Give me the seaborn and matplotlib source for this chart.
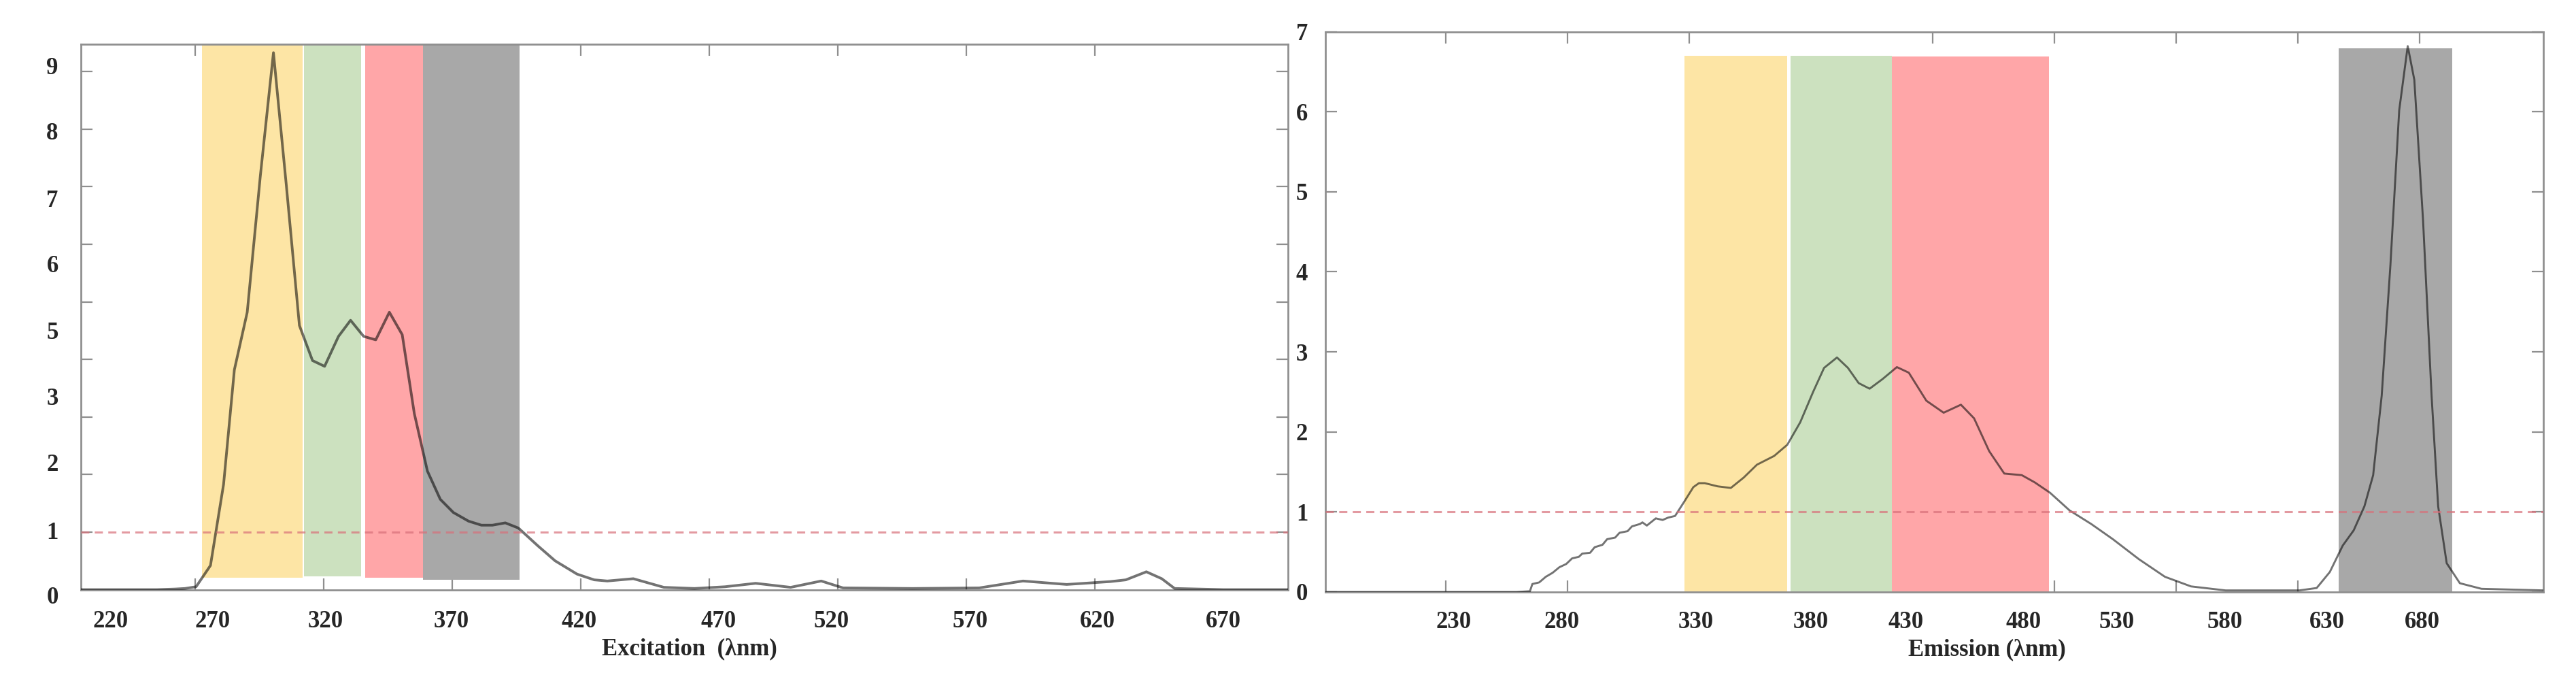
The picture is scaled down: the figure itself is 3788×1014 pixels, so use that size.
import numpy as np
import pandas as pd
import matplotlib
matplotlib.use("Agg")
import matplotlib.pyplot as plt
import matplotlib.transforms as mtransforms
import seaborn as sns

# ---------------- data ----------------
# Excitation spectrum (left panel)
exc_wavelength = [225.5, 240, 255, 262, 266, 270.3, 275.9, 281.0, 285.2, 290.2, 295.3, 300.4,
                  305.4, 310.5, 315.6, 320.3, 325.7, 330.4, 335.5, 340.2, 345.5, 350.5, 355.2,
                  360.3, 365.3, 370.4, 376.3, 381.3, 385.6, 390.6, 395.7, 403.3, 410.0, 418.5,
                  425.2, 430.3, 440.4, 452.3, 464.2, 476.1, 488.0, 501.6, 513.5, 522.0, 549.0,
                  575.0, 592.0, 609.0, 626.0, 632.0, 640.0, 646.0, 651.0, 670.0, 695.0]
exc_intensity = [0.0, 0.0, 0.0, 0.01, 0.02, 0.05, 0.42, 1.83, 3.82, 4.82, 7.19, 9.33,
                 7.03, 4.59, 3.98, 3.88, 4.40, 4.68, 4.40, 4.34, 4.82, 4.43, 3.06,
                 2.06, 1.57, 1.34, 1.19, 1.12, 1.12, 1.16, 1.07, 0.76, 0.50, 0.27,
                 0.17, 0.15, 0.19, 0.04, 0.02, 0.05, 0.11, 0.04, 0.15, 0.03, 0.02,
                 0.03, 0.15, 0.09, 0.14, 0.17, 0.31, 0.19, 0.02, 0.0, 0.0]

# Emission spectrum (right panel)
em_wavelength = [180.6, 259.1, 264.6, 265.6, 268.4, 271.1, 273.9, 276.7, 279.5, 281.9, 284.7,
                 286.1, 289.3, 291.2, 294.4, 296.3, 299.6, 301.4, 304.7, 306.5, 309.8, 310.8,
                 312.6, 316.3, 319.1, 321.4, 324.2, 328.0, 331.7, 334.0, 336.4, 341.7, 347.1,
                 352.4, 357.8, 364.9, 370.3, 375.6, 380.9, 385.4, 390.7, 395.2, 399.6, 404.1,
                 409.4, 415.3, 420.2, 427.4, 434.5, 441.6, 447.0, 453.2, 459.4, 466.6, 471.9,
                 478.2, 486.2, 495.1, 504.0, 514.7, 525.4, 536.1, 550.3, 580.6, 587.7, 593.1,
                 598.4, 602.9, 607.3, 610.9, 614.4, 618.0, 621.6, 625.1, 627.8, 631.4, 634.9,
                 637.6, 641.1, 646.5, 655.4, 680.8]
em_intensity = [0.0, 0.0, 0.01, 0.10, 0.12, 0.19, 0.24, 0.31, 0.35, 0.42, 0.44,
                0.48, 0.49, 0.56, 0.59, 0.66, 0.68, 0.74, 0.76, 0.82, 0.85, 0.87,
                0.83, 0.92, 0.90, 0.93, 0.95, 1.13, 1.31, 1.36, 1.36, 1.32, 1.30,
                1.43, 1.59, 1.70, 1.84, 2.12, 2.50, 2.80, 2.93, 2.80, 2.61, 2.54,
                2.66, 2.81, 2.74, 2.39, 2.24, 2.34, 2.17, 1.76, 1.48, 1.46, 1.37,
                1.24, 1.02, 0.85, 0.66, 0.41, 0.19, 0.07, 0.02, 0.02, 0.05, 0.25,
                0.58, 0.77, 1.07, 1.46, 2.45, 4.09, 6.02, 6.82, 6.40, 4.64, 2.45,
                1.07, 0.36, 0.11, 0.04, 0.02]

# Highlight bands: start, end, bottom, top (nm / intensity)
band_colors = ["#FDE5A5", "#CCE1BF", "#FFA6A8", "#A8A8A8"]
exc_band_start = [272.6, 312.3, 336.0, 358.5]
exc_band_end = [311.8, 334.4, 358.5, 396.2]
exc_band_bottom = [0.21, 0.23, 0.21, 0.17]
exc_band_top = [9.48, 9.48, 9.48, 9.48]
em_band_start = [328.0, 371.6, 413.2, 596.8]
em_band_end = [370.2, 413.2, 477.8, 643.4]
em_band_bottom = [0.0, 0.0, 0.0, 0.0]
em_band_top = [6.70, 6.70, 6.69, 6.79]

threshold = 1.0

# Axis ticks and tick labels (as printed in the source figure)
exc_xlim = (225.5, 695.0)
exc_ylim = (0.0, 9.48)
exc_xtick_marks = [270, 320, 370, 420, 470, 520, 570, 620, 670]
exc_xlabel_pos = [237.0, 276.6, 320.6, 369.5, 419.3, 473.5, 517.4, 571.4, 620.9, 670.0]
exc_xlabel_txt = ["220", "270", "320", "370", "420", "470", "520", "570", "620", "670"]
exc_ytick_marks = [0, 1, 2, 3, 4, 5, 6, 7, 8, 9]
exc_ylabel_pos = [0.0, 1.03, 2.21, 3.36, 4.51, 5.66, 6.80, 7.97, 9.10]
exc_ylabel_txt = ["0", "1", "2", "3", "5", "6", "7", "8", "9"]

em_xlim = (180.6, 680.8)
em_ylim = (0.0, 7.0)
em_xtick_marks = [230, 280, 330, 380, 430, 480, 530, 580, 630]
em_xlabel_pos = [233.4, 277.8, 332.8, 380.0, 419.1, 467.3, 505.7, 550.1, 592.0, 631.1]
em_xlabel_txt = ["230", "280", "330", "380", "430", "480", "530", "580", "630", "680"]
em_ytick_marks = [0, 1, 2, 3, 4, 5, 6, 7]
em_ytick_txt = ["0", "1", "2", "3", "4", "5", "6", "7"]

# ---------------- style ----------------
sns.set_style("white")
plt.rcParams["font.family"] = ["Liberation Serif", "DejaVu Serif"]
plt.rcParams["font.weight"] = "bold"

W, H = 3788, 1014
DPI = 100
fig = plt.figure(figsize=(W / DPI, H / DPI), dpi=DPI)

ax1 = fig.add_axes([119 / W, (H - 866.5) / H, (1893.6 - 119) / W, (866.5 - 64.7) / H])
ax2 = fig.add_axes([1949 / W, (H - 870) / H, (3740 - 1949) / W, (870 - 46.6) / H])

SPINE_C = "#8f8f8f"
FS = 25
DASH_C = "#D8707A"


def style_axes(ax):
    for s in ax.spines.values():
        s.set_color(SPINE_C)
        s.set_linewidth(2.0)
        s.set_visible(True)
    ax.set_facecolor("white")


def draw_bands(ax, starts, ends, bottoms, tops):
    for x0, x1, b, t, c in zip(starts, ends, bottoms, tops, band_colors):
        ax.fill_between([x0, x1], [b, b], [t, t], color=c, linewidth=0, zorder=1)


# ---- left: excitation ----
style_axes(ax1)
draw_bands(ax1, exc_band_start, exc_band_end, exc_band_bottom, exc_band_top)
df_exc = pd.DataFrame({"wavelength": exc_wavelength, "intensity": exc_intensity})
sns.lineplot(data=df_exc, x="wavelength", y="intensity", ax=ax1, color="black",
             alpha=0.55, linewidth=2.8, sort=False, estimator=None, zorder=3)
ax1.axhline(threshold, color=DASH_C, alpha=0.7, linewidth=2.2,
            linestyle=(0, (3.9, 2.6)), zorder=4)
ax1.set_xticks(exc_xlabel_pos)
ax1.set_xticklabels(exc_xlabel_txt)
ax1.set_xticks(exc_xtick_marks, minor=True)
ax1.set_yticks(exc_ylabel_pos)
ax1.set_yticklabels(exc_ylabel_txt)
ax1.set_yticks(exc_ytick_marks, minor=True)
ax1.set_xlim(*exc_xlim)
ax1.set_ylim(*exc_ylim)
ax1.tick_params(axis="both", which="major", length=0, labelsize=FS)
ax1.tick_params(axis="x", which="major", pad=22)
ax1.tick_params(axis="y", which="major", pad=24)
ax1.tick_params(axis="both", which="minor", direction="in", length=12, width=1.6,
                color=SPINE_C, top=True, right=True, bottom=True, left=True)
# the printed "0" sits slightly below the zero line in the source
ylabs = ax1.get_yticklabels()
ylabs[0].set_transform(ylabs[0].get_transform() +
                       mtransforms.ScaledTranslation(0, -6 / 72, fig.dpi_scale_trans))
ax1.set_xlabel("Excitation  (λnm)", fontsize=FS, fontweight="bold")
ax1.set_ylabel("")
ax1.xaxis.set_label_coords(0.504, -0.109)
ax1.xaxis.label.set_va("center")

# ---- right: emission ----
style_axes(ax2)
draw_bands(ax2, em_band_start, em_band_end, em_band_bottom, em_band_top)
df_em = pd.DataFrame({"wavelength": em_wavelength, "intensity": em_intensity})
sns.lineplot(data=df_em, x="wavelength", y="intensity", ax=ax2, color="black",
             alpha=0.55, linewidth=2.1, sort=False, estimator=None, zorder=3)
ax2.axhline(threshold, color=DASH_C, alpha=0.7, linewidth=2.2,
            linestyle=(0, (3.9, 2.6)), zorder=4)
ax2.set_xticks(em_xlabel_pos)
ax2.set_xticklabels(em_xlabel_txt)
ax2.set_xticks(em_xtick_marks, minor=True)
ax2.set_yticks(em_ytick_marks)
ax2.set_yticklabels(em_ytick_txt)
ax2.set_xlim(*em_xlim)
ax2.set_ylim(*em_ylim)
ax2.tick_params(axis="x", which="major", length=0, labelsize=FS, pad=20)
ax2.tick_params(axis="x", which="minor", direction="in", length=12, width=1.6,
                color=SPINE_C, top=True, bottom=True)
ax2.tick_params(axis="y", which="major", direction="in", length=12, width=1.6,
                color=SPINE_C, left=True, right=True, labelsize=FS, pad=0)
ax2.set_xlabel("Emission (λnm)", fontsize=FS, fontweight="bold")
ax2.set_ylabel("")
ax2.xaxis.set_label_coords(0.543, -0.103)
ax2.xaxis.label.set_va("center")
for lab in ax2.get_yticklabels():
    lab.set_x(-0.0145)

fig.savefig("out.png", dpi=DPI, facecolor="white")
